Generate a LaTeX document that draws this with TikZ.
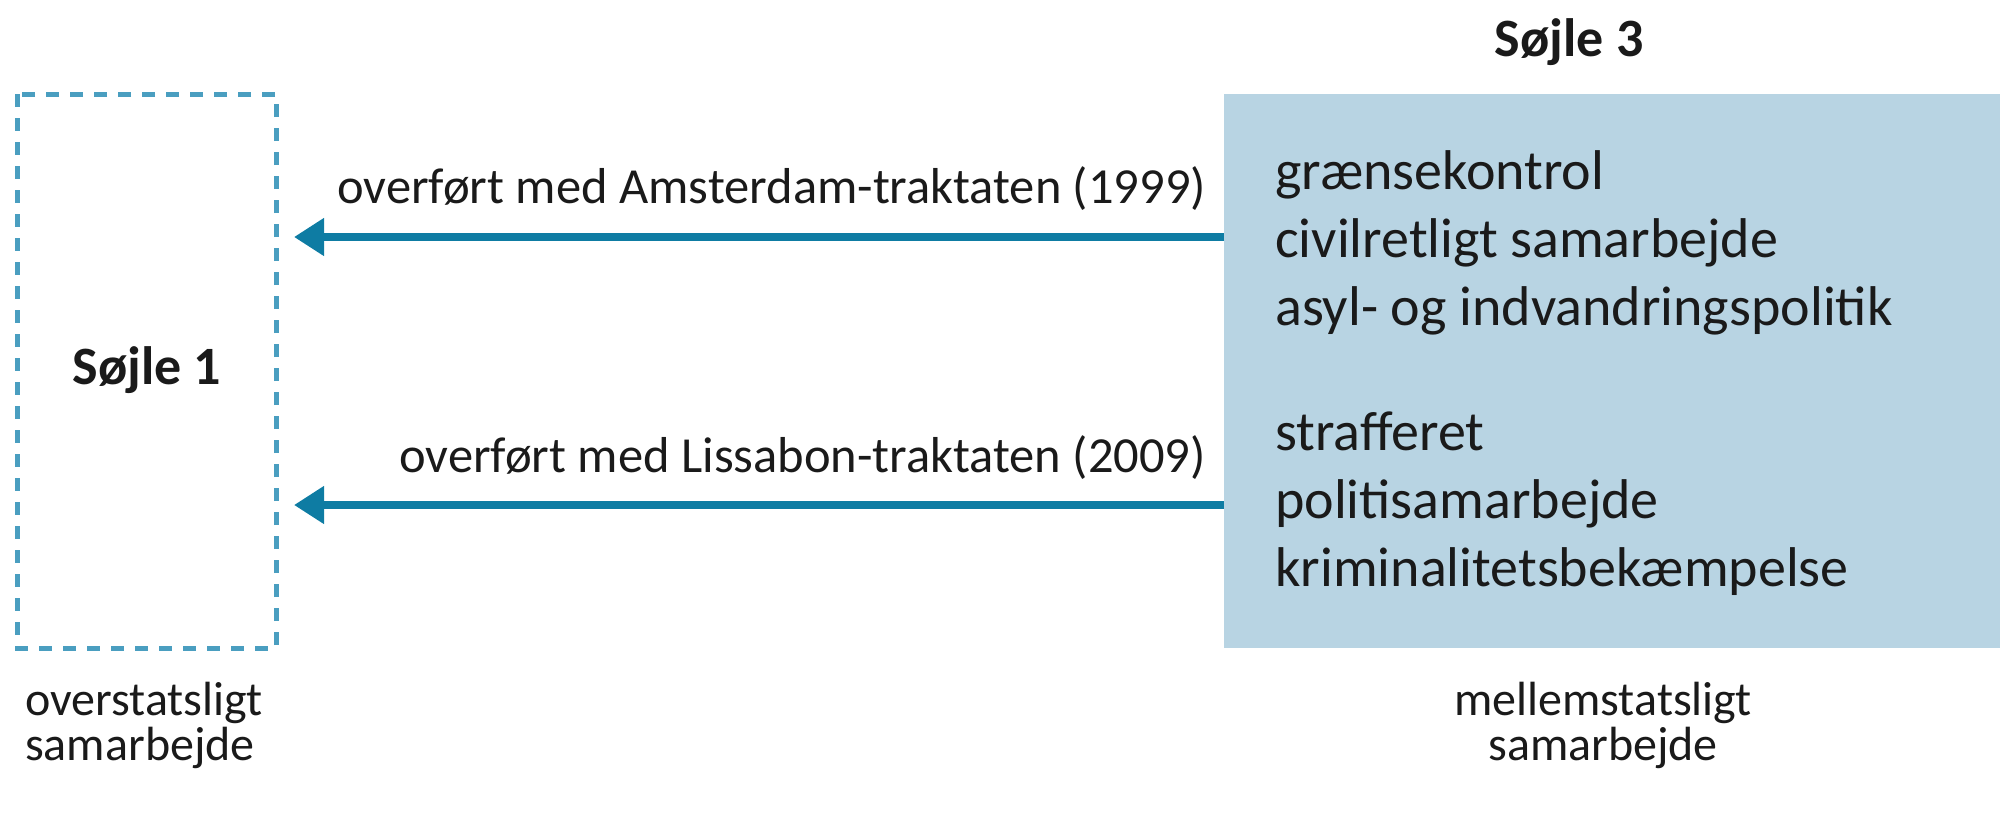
\documentclass[tikz,border=0pt]{standalone}
\usepackage{fontspec}
\setmainfont{Carlito}
\usetikzlibrary{arrows.meta}
\definecolor{dashblue}{HTML}{4A9EC0}
\definecolor{boxblue}{HTML}{B8D4E3}
\definecolor{arrowblue}{HTML}{0E7CA3}
\definecolor{txt}{HTML}{1A1A1A}
\tikzset{
  main/.style={font=\fontsize{50.5}{65}\selectfont, text=txt, inner sep=0pt},
  boxtxt/.style={font=\fontsize{56}{68}\selectfont, text=txt, inner sep=0pt},
  small/.style={font=\fontsize{48}{45}\selectfont, text=txt, inner sep=0pt},
  head/.style={font=\fontsize{54}{60}\selectfont\bfseries, text=txt, inner sep=0pt},
  arr/.style={draw=arrowblue, line width=8.5pt, -{Triangle[length=30pt,width=36pt]}},
}
\begin{document}
\begin{tikzpicture}[x=1pt,y=-1pt]
\useasboundingbox (0,0) rectangle (2000,823);
% boxes
\draw[dashblue, line width=5pt, dash pattern=on 13pt off 11pt] (17,94) rectangle (276,648);
\node[head] (s1) at (147,370) {Søjle 1};
\fill[boxblue] (1224,94) rectangle (2000,648);
\node[head] (s3) at (1569,42) {Søjle 3};
% box texts
\node[boxtxt, anchor=west, align=left] (g1) at (1275,243) {grænsekontrol\\civilretligt samarbejde\\asyl- og indvandringspolitik};
\node[boxtxt, anchor=west, align=left] (g2) at (1275,504) {strafferet\\politisamarbejde\\kriminalitetsbekæmpelse};
% arrows
\coordinate (a1s) at (1224,237);
\coordinate (a1e) at (294,237);
\coordinate (a2s) at (1224,505);
\coordinate (a2e) at (294,505);
\draw[arr] (a1s) -- (a1e);
\draw[arr] (a2s) -- (a2e);
\node[main, anchor=base east] (l1) at (1206,203) {overført med Amsterdam-traktaten (1999)};
\node[main, anchor=base east] (l2) at (1206,472) {overført med Lissabon-traktaten (2009)};
% captions
\node[small, anchor=west, align=left] (c1) at (25,725) {overstatsligt\\samarbejde};
\node[small, align=center] (c3) at (1603,725) {mellemstatsligt\\samarbejde};
\end{tikzpicture}
\end{document}
